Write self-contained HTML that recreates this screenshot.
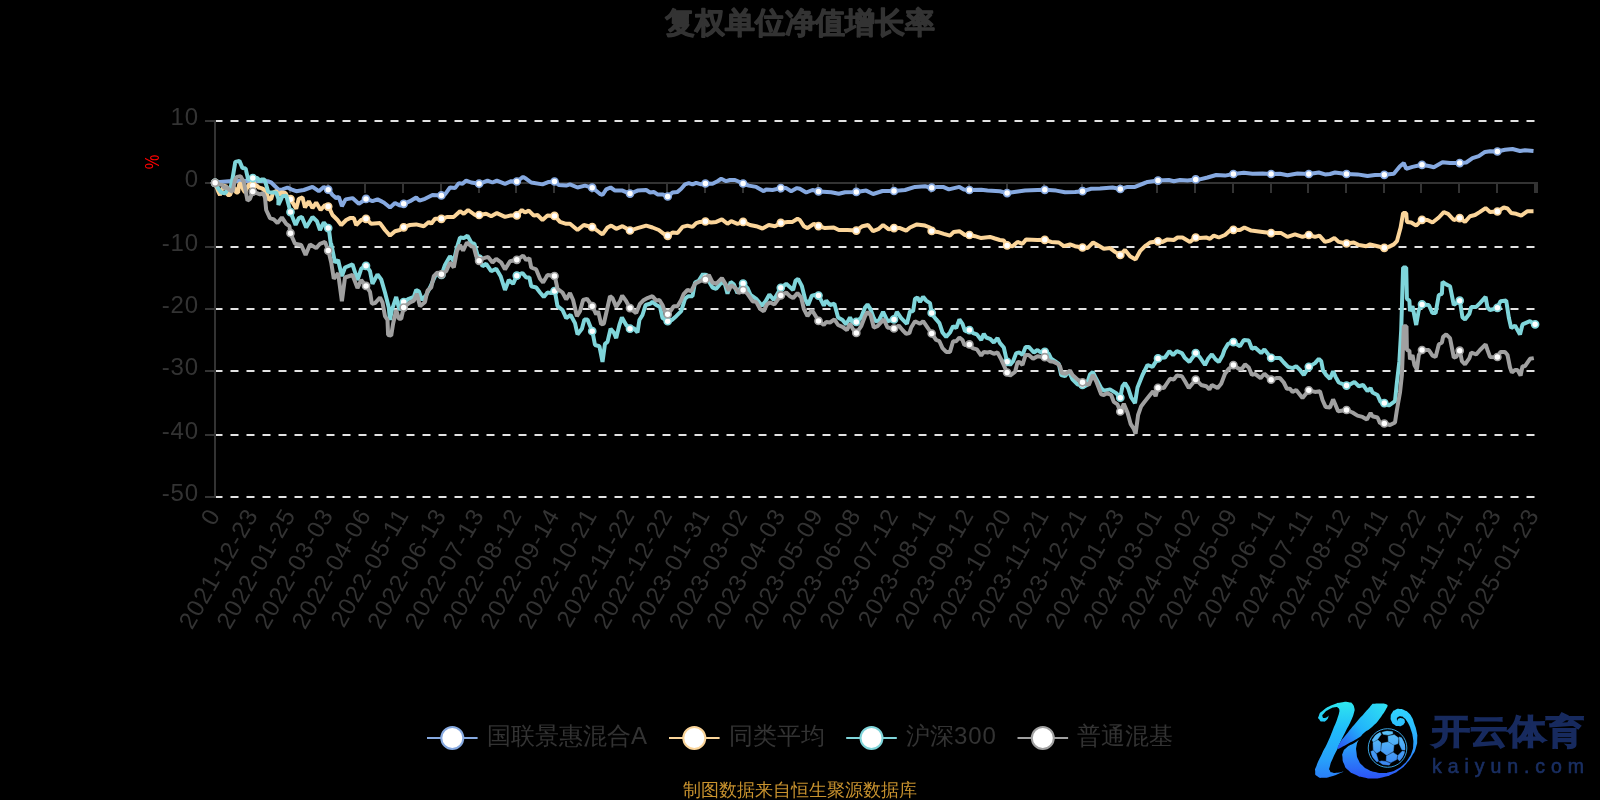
<!DOCTYPE html>
<html lang="zh"><head><meta charset="utf-8"><title>复权单位净值增长率</title>
<style>
html,body{margin:0;padding:0;background:#000;}
body{width:1600px;height:800px;overflow:hidden;position:relative;font-family:"Liberation Sans",sans-serif;}
</style></head><body>
<svg width="1600" height="800" viewBox="0 0 1600 800" style="position:absolute;left:0;top:0;will-change:transform">
<g stroke="#e2e2e2" stroke-width="2" stroke-dasharray="8 8" fill="none">
<line x1="214.5" y1="121" x2="1536" y2="121"/>
<line x1="214.5" y1="247" x2="1536" y2="247"/>
<line x1="214.5" y1="309" x2="1536" y2="309"/>
<line x1="214.5" y1="371" x2="1536" y2="371"/>
<line x1="214.5" y1="435" x2="1536" y2="435"/>
<line x1="214.5" y1="497" x2="1536" y2="497"/>
</g>
<g stroke="#333" stroke-width="2" fill="none">
<line x1="215" y1="120" x2="215" y2="498"/>
<line x1="205" y1="121" x2="215" y2="121"/>
<line x1="205" y1="183" x2="215" y2="183"/>
<line x1="205" y1="247" x2="215" y2="247"/>
<line x1="205" y1="309" x2="215" y2="309"/>
<line x1="205" y1="371" x2="215" y2="371"/>
<line x1="205" y1="435" x2="215" y2="435"/>
<line x1="205" y1="497" x2="215" y2="497"/>
<line x1="214" y1="183" x2="1538" y2="183"/>
<line x1="252" y1="183" x2="252" y2="193"/>
<line x1="290" y1="183" x2="290" y2="193"/>
<line x1="328" y1="183" x2="328" y2="193"/>
<line x1="365" y1="183" x2="365" y2="193"/>
<line x1="403" y1="183" x2="403" y2="193"/>
<line x1="441" y1="183" x2="441" y2="193"/>
<line x1="479" y1="183" x2="479" y2="193"/>
<line x1="516" y1="183" x2="516" y2="193"/>
<line x1="554" y1="183" x2="554" y2="193"/>
<line x1="592" y1="183" x2="592" y2="193"/>
<line x1="629" y1="183" x2="629" y2="193"/>
<line x1="667" y1="183" x2="667" y2="193"/>
<line x1="705" y1="183" x2="705" y2="193"/>
<line x1="743" y1="183" x2="743" y2="193"/>
<line x1="780" y1="183" x2="780" y2="193"/>
<line x1="818" y1="183" x2="818" y2="193"/>
<line x1="856" y1="183" x2="856" y2="193"/>
<line x1="893" y1="183" x2="893" y2="193"/>
<line x1="931" y1="183" x2="931" y2="193"/>
<line x1="969" y1="183" x2="969" y2="193"/>
<line x1="1007" y1="183" x2="1007" y2="193"/>
<line x1="1044" y1="183" x2="1044" y2="193"/>
<line x1="1082" y1="183" x2="1082" y2="193"/>
<line x1="1120" y1="183" x2="1120" y2="193"/>
<line x1="1157" y1="183" x2="1157" y2="193"/>
<line x1="1195" y1="183" x2="1195" y2="193"/>
<line x1="1233" y1="183" x2="1233" y2="193"/>
<line x1="1271" y1="183" x2="1271" y2="193"/>
<line x1="1308" y1="183" x2="1308" y2="193"/>
<line x1="1346" y1="183" x2="1346" y2="193"/>
<line x1="1384" y1="183" x2="1384" y2="193"/>
<line x1="1421" y1="183" x2="1421" y2="193"/>
<line x1="1459" y1="183" x2="1459" y2="193"/>
<line x1="1497" y1="183" x2="1497" y2="193"/>
<line x1="1535" y1="183" x2="1535" y2="193"/>
<line x1="1537" y1="183" x2="1537" y2="193"/>
</g>
<path d="M215.2 182.8 L220 181.9 L228.8 181.2 L237.5 181 L252.5 180.8 L267.5 181.2 L271.2 182.5 L275 186.2 L278.8 190 L282.5 189.4 L287.5 187.5 L291.2 189.4 L296.2 191.2 L303.8 190 L312.5 186.9 L318.8 191.2 L323.8 186.9 L328.8 190 L332.5 195 L336.2 198.1 L338.8 196.9 L341.9 206.2 L345.6 199.4 L352.5 198.1 L358.8 203.8 L366.2 198.8 L372.5 201.2 L377.5 199.4 L383.8 202.5 L390 207.5 L395 203.1 L399.8 205.6 L403.8 203.8 L410 201.2 L416.2 197.5 L419.4 200.6 L425 198.8 L432.5 195 L441.6 195.4 L445 194.4 L450 187.5 L455 188.1 L458.8 183.1 L462.5 183.8 L466.2 180.6 L471.2 182.5 L479.4 183.8 L487.5 180.6 L492.5 182.5 L496.9 180.6 L505 183.8 L511.2 181.2 L516.9 181.5 L523.1 176.9 L526.2 178.8 L531.2 182.5 L542.5 184.4 L548.8 181.9 L554.6 181.5 L558.8 185 L566.2 185.6 L570 184.4 L577.5 187.5 L585 185.6 L592.5 187.8 L599.8 193.8 L602.5 195 L606.2 189.4 L610.6 187.5 L615 190.6 L622.5 190.6 L630.2 193.8 L637.5 190.6 L646.2 190 L650 192.5 L653.8 191.9 L657.5 194.4 L662.5 194.4 L667.9 196.6 L672.5 192.5 L677.5 191.9 L681.2 188.8 L685 184.4 L688.8 183.1 L692.5 184.4 L696.2 182.8 L701.2 184.4 L705.6 183.5 L712.5 183.8 L717.5 181.2 L721.2 178.8 L726.2 181.2 L730 180 L735 180 L743.1 183.5 L748.8 185.6 L756.2 186.9 L763.8 191.2 L766.2 189.4 L772.5 190 L780.9 188.1 L786.2 188.1 L791.2 191.2 L796.9 188.1 L799.8 188.8 L806.2 192.5 L812.5 190 L818.8 191.5 L831.2 192.2 L838.8 193.8 L845 192.2 L856.2 191.9 L866.2 190.6 L873.1 194 L882.5 191 L894 191 L905 190 L915 186.9 L925 186.2 L931.9 187.8 L937.5 186.9 L943.1 186.9 L948.8 189.4 L959.4 186.9 L963.8 189.4 L969.4 190 L981.2 189.8 L987.5 190.6 L999.8 191.2 L1007.2 193.1 L1025 190.6 L1037.5 190 L1045 189.8 L1056.2 190.6 L1065 192.2 L1075 191.9 L1082.5 191.2 L1091.2 188.8 L1100 188.5 L1112.5 187.5 L1120.2 189 L1127.5 186.9 L1135 186.9 L1147.5 181.9 L1157.9 180.6 L1168.8 180 L1173.8 181.2 L1180 180 L1187.5 180.6 L1195.6 179.4 L1199.8 179.4 L1207.5 177.5 L1216.2 175 L1225 175.6 L1233.4 174 L1243.8 172.8 L1252.5 173.8 L1262.5 173.5 L1271 174 L1280 173.8 L1287.5 175.2 L1297.5 173.5 L1308.8 174 L1318.8 172.5 L1325 174.4 L1330 174 L1335 172.5 L1346.5 174 L1357.5 174.4 L1367.5 176 L1375 175 L1384.4 174.8 L1393.8 173.8 L1400 166.2 L1403.8 163.1 L1406.2 168.8 L1412.5 166.9 L1421.9 164.8 L1430 166.2 L1433.8 167.2 L1442.5 162.2 L1450 163.1 L1459.8 163.1 L1466.2 162.5 L1472.5 158.1 L1478.8 156.2 L1485 151.9 L1490 151.2 L1497.2 151.5 L1505 149.8 L1512.5 149 L1520 151 L1525 150.2 L1533.5 151" fill="none" stroke="#86A9E0" stroke-width="4" stroke-linejoin="bevel" stroke-linecap="butt"/>
<g fill="#fff" stroke="#86A9E0" stroke-width="1.6">
<circle cx="215.1" cy="182.8" r="3.55"/>
<circle cx="252.8" cy="180.8" r="3.55"/>
<circle cx="328.2" cy="189.7" r="3.55"/>
<circle cx="366" cy="198.9" r="3.55"/>
<circle cx="403.7" cy="203.8" r="3.55"/>
<circle cx="441.4" cy="195.4" r="3.55"/>
<circle cx="479.1" cy="183.7" r="3.55"/>
<circle cx="516.8" cy="181.5" r="3.55"/>
<circle cx="554.5" cy="181.5" r="3.55"/>
<circle cx="592.2" cy="187.7" r="3.55"/>
<circle cx="630" cy="193.6" r="3.55"/>
<circle cx="667.7" cy="196.5" r="3.55"/>
<circle cx="705.4" cy="183.5" r="3.55"/>
<circle cx="743.1" cy="183.5" r="3.55"/>
<circle cx="780.8" cy="188.1" r="3.55"/>
<circle cx="818.5" cy="191.4" r="3.55"/>
<circle cx="856.3" cy="191.9" r="3.55"/>
<circle cx="894" cy="191" r="3.55"/>
<circle cx="931.7" cy="187.7" r="3.55"/>
<circle cx="969.4" cy="190" r="3.55"/>
<circle cx="1007.1" cy="193.1" r="3.55"/>
<circle cx="1044.8" cy="189.8" r="3.55"/>
<circle cx="1082.5" cy="191.2" r="3.55"/>
<circle cx="1120.3" cy="189" r="3.55"/>
<circle cx="1158" cy="180.6" r="3.55"/>
<circle cx="1195.7" cy="179.4" r="3.55"/>
<circle cx="1233.4" cy="174" r="3.55"/>
<circle cx="1271.1" cy="174" r="3.55"/>
<circle cx="1308.8" cy="174" r="3.55"/>
<circle cx="1346.5" cy="174" r="3.55"/>
<circle cx="1384.3" cy="174.8" r="3.55"/>
<circle cx="1422" cy="164.8" r="3.55"/>
<circle cx="1459.7" cy="163.1" r="3.55"/>
<circle cx="1497.4" cy="151.5" r="3.55"/>
</g>
<path d="M215.1 182.8 L218.4 191.9 L220 195 L222.2 188.8 L223.8 187.5 L225.6 185 L227.5 195 L230 195 L231.9 190 L234.4 187.5 L236.2 192.5 L238.1 192.5 L239.1 184.4 L240.9 183.1 L243.1 189.4 L245 192.5 L248.8 184.4 L252.8 185.6 L256.9 185.6 L258.8 187.5 L261.2 188.1 L263.8 189.4 L266.9 193.8 L268.8 200 L271.2 198.8 L273.1 192.5 L276.2 191.2 L278.8 195 L281.2 192.5 L285.6 193.1 L288.1 198.1 L290.9 199.4 L296.2 208.8 L298.8 198.8 L302.5 197.5 L305 207.5 L308.8 201.2 L312.5 208.1 L316.2 202.5 L320.6 210 L325 205 L328.8 206.9 L332.5 215 L337.5 220 L341.2 225 L346.2 220 L350 218.1 L353.8 218.1 L356.2 225 L361.2 220 L366.2 218.8 L371.2 223.8 L380 223.1 L385 230 L390 235.6 L395 231.2 L399.8 230 L403.8 227.2 L410 225 L416.2 224.4 L423.8 226.2 L428.8 221.9 L431.2 223.8 L435 218.8 L441.6 218.8 L447.5 216.9 L453.8 216.9 L460 211.2 L463.8 213.8 L468.1 210 L475 215 L479.4 215 L486.2 213.8 L491.2 216.2 L496.9 213.1 L505 216.9 L510 215.6 L516.9 215.2 L521.9 210 L525 212.5 L528.8 210.6 L533.8 215.6 L537.5 215 L542.5 220 L547.5 215.6 L554.6 215.9 L560 221.9 L566.2 223.8 L570 223.8 L577.5 230 L583.8 225 L592.5 227.2 L599.8 232.5 L602.5 234.4 L607.5 227.5 L611.2 225.6 L616.2 228.8 L622.5 226.2 L630.2 230.6 L637.5 228.1 L646.2 225.6 L652.5 227.5 L658.8 230 L663.8 233.8 L667.9 235.9 L672.5 232.5 L677.5 233.1 L682.5 226.9 L687.5 225.6 L692.5 226.9 L696.2 223.1 L700 221.9 L705.6 221.5 L711.2 222.5 L716.2 221.9 L721.9 219.4 L727.5 223.8 L731.2 221.2 L737.5 223.8 L743.1 221.9 L750 225 L756.2 226.2 L762.5 228.5 L768.8 225 L775 226.2 L780.9 222.9 L787.5 221.9 L792.5 221.9 L797.5 218.8 L799.8 220 L803.8 226.2 L807.5 228.1 L813.8 223.8 L818.8 226.2 L825 228.1 L833.8 227.5 L838.8 230 L847.5 230 L856.2 230.6 L862.5 226.2 L868.1 225 L873.1 231.2 L878.8 228.8 L883.1 225 L888.8 229.4 L894 228.1 L900 228.1 L906.2 230.6 L910 227.5 L916.9 224.4 L925 225.6 L930 227.5 L931.9 231.2 L937.5 231.9 L943.8 233.8 L950 235.6 L953.8 231.9 L959.4 231.2 L965 235 L969.4 235 L975 236.2 L981.2 238.1 L990 236.9 L995 238.5 L999.8 240 L1003.8 240.6 L1007.2 245.6 L1012.5 246.2 L1017.5 241.9 L1022.5 243.8 L1026.2 239.4 L1037.5 240 L1045 239.8 L1051.2 241.9 L1058.8 242.5 L1063.8 246.2 L1070 244.4 L1075 246.2 L1082.5 247.5 L1087.5 248.1 L1093.1 242.5 L1097.5 245 L1103.8 248.8 L1110 248.1 L1115 251.9 L1120.2 255 L1125 250 L1130 256.2 L1135.6 259.4 L1140 251.2 L1145 246.2 L1150 242.5 L1157.9 241.2 L1162.5 241.9 L1167.5 239.4 L1173.8 240 L1177.5 237.5 L1182.5 237.5 L1190 241.9 L1195.6 237.5 L1199.8 238.1 L1206.2 237.5 L1210 238.8 L1213.8 235.6 L1218.8 237.5 L1225 235 L1230 230.6 L1233.4 229.8 L1240 230 L1244.4 227.5 L1251.2 230.6 L1262.5 231.9 L1271 233.1 L1281.2 233.1 L1287.5 236.9 L1295 234.4 L1302.5 236.9 L1308.8 235 L1315 236.9 L1319.4 235.6 L1325 241.9 L1330 240.6 L1334.4 238.1 L1338.8 241.9 L1346.5 243.5 L1353.8 242.5 L1358.8 245 L1366.2 246.2 L1370 244.4 L1377.5 246.2 L1384.1 247.9 L1388.8 246.9 L1393.8 244.4 L1396.9 241.2 L1400.6 227.5 L1403.1 213.1 L1406.2 213.1 L1406.9 221.9 L1411.2 222.5 L1416.2 225.6 L1421.9 219.8 L1427.5 220 L1432.5 222.5 L1438.8 217.5 L1443.8 212.2 L1448.1 213.8 L1453.8 220 L1459.8 218.1 L1465 221.9 L1470 216.2 L1475 215 L1480 211.9 L1485.6 208.1 L1490 211.9 L1497.2 211.6 L1503.8 207.5 L1507.5 208.5 L1511.2 213.1 L1516.2 213.8 L1521.2 215.6 L1527.5 211.2 L1533.5 211.2" fill="none" stroke="#FBD59A" stroke-width="4" stroke-linejoin="bevel" stroke-linecap="butt"/>
<g fill="#fff" stroke="#FBD59A" stroke-width="1.6">
<circle cx="215.1" cy="182.8" r="3.55"/>
<circle cx="252.8" cy="185.6" r="3.55"/>
<circle cx="290.5" cy="199.2" r="3.55"/>
<circle cx="328.2" cy="206.6" r="3.55"/>
<circle cx="366" cy="218.8" r="3.55"/>
<circle cx="403.7" cy="227.3" r="3.55"/>
<circle cx="441.4" cy="218.8" r="3.55"/>
<circle cx="479.1" cy="215" r="3.55"/>
<circle cx="516.8" cy="215.3" r="3.55"/>
<circle cx="554.5" cy="215.9" r="3.55"/>
<circle cx="592.2" cy="227.2" r="3.55"/>
<circle cx="630" cy="230.5" r="3.55"/>
<circle cx="667.7" cy="235.8" r="3.55"/>
<circle cx="705.4" cy="221.5" r="3.55"/>
<circle cx="743.1" cy="221.9" r="3.55"/>
<circle cx="780.8" cy="222.9" r="3.55"/>
<circle cx="818.5" cy="226.1" r="3.55"/>
<circle cx="856.3" cy="230.6" r="3.55"/>
<circle cx="894" cy="228.1" r="3.55"/>
<circle cx="931.7" cy="230.9" r="3.55"/>
<circle cx="969.4" cy="235" r="3.55"/>
<circle cx="1007.1" cy="245.4" r="3.55"/>
<circle cx="1044.8" cy="239.8" r="3.55"/>
<circle cx="1082.5" cy="247.5" r="3.55"/>
<circle cx="1120.3" cy="255" r="3.55"/>
<circle cx="1158" cy="241.3" r="3.55"/>
<circle cx="1195.7" cy="237.5" r="3.55"/>
<circle cx="1233.4" cy="229.8" r="3.55"/>
<circle cx="1271.1" cy="233.1" r="3.55"/>
<circle cx="1308.8" cy="235" r="3.55"/>
<circle cx="1346.5" cy="243.5" r="3.55"/>
<circle cx="1384.3" cy="247.8" r="3.55"/>
<circle cx="1422" cy="219.8" r="3.55"/>
<circle cx="1459.7" cy="218.1" r="3.55"/>
<circle cx="1497.4" cy="211.5" r="3.55"/>
</g>
<path d="M215.1 182.8 L218.4 188.8 L221.2 192.5 L225 193.4 L227.5 190 L230.6 187.5 L232.5 178.8 L235.3 161.9 L239.4 160.9 L242.5 168.1 L245.6 168.4 L248.1 179.4 L252.8 178.1 L257.5 178.1 L260 181.9 L261.2 179.4 L264.4 179.4 L266.6 186.2 L268.1 191.6 L271.2 192.5 L276.2 192.5 L278.4 198.8 L278.4 205 L282.5 196.2 L286.2 195.6 L290.6 212.5 L295.6 225 L298.8 218.1 L301.9 216.9 L306.2 227.5 L312.5 216.9 L316.9 221.2 L320 230 L323.8 222.5 L328.8 228.8 L331.2 246.9 L331.2 243.8 L335 262.5 L338.1 260 L341.9 276.2 L345 267.5 L352.5 264.4 L357.5 280 L361.2 268.8 L366.2 265.6 L370 271.2 L372.5 283.8 L377.5 274.4 L381.2 279.4 L385 292.5 L388.8 307.5 L390 320 L391.9 310 L396.2 296.9 L399.4 310 L403.8 301.9 L408.8 298.8 L413.8 296.9 L416.2 290 L418.8 291.2 L421.9 300 L426.2 295 L430 287.5 L436.2 273.8 L441.5 275 L445 265 L450 256.2 L453.8 261.2 L456.9 247.5 L460 237.5 L463.8 238.1 L467.5 235.6 L471.2 242.5 L474.4 243.8 L477.5 255 L482.5 266.2 L486.2 263.8 L491.2 271.2 L496.2 268.8 L500.6 276.2 L505 290 L508.8 280 L513.1 283.8 L517.1 275 L522.5 273.1 L526.2 277.5 L529.4 277.5 L531.2 286.2 L536.2 287.5 L540 292.5 L543.8 296.9 L547.5 292.5 L551.2 293.1 L554.8 290.9 L557.5 306.2 L562.5 310 L566.2 318.1 L570.6 315 L575 323.1 L577.5 334.4 L581.9 328.8 L584.4 319.4 L587.5 319.4 L592.5 331.9 L595 345 L599.4 346.2 L602.5 361.9 L605 343.8 L607.5 341.9 L610.6 328.8 L613.8 332.5 L616.2 338.1 L619.4 325 L621.9 317.5 L626.2 325 L630 328.8 L633.8 328.1 L637.5 332.5 L639.4 320 L642.5 315 L645.6 305 L650 303.8 L652.5 301.9 L656.2 305 L660 306.9 L662.5 318.1 L667.8 321.2 L671.9 320 L676.2 316.2 L681.2 311.2 L685 298.8 L688.1 296.2 L692.5 296.2 L695 282.5 L698.8 280.6 L703.1 273.8 L705.6 277.5 L708.8 281.2 L712.5 287.5 L716.2 288.8 L721.9 281.9 L725 284.4 L727.5 293.8 L730.6 281.9 L733.8 284.4 L737.5 293.1 L743.1 283.5 L747.5 288.1 L750.6 295 L756.2 298.8 L761.9 305.6 L765.6 301.2 L769.4 294.4 L773.8 300 L780.9 287.8 L786.2 283.8 L793.1 290 L795.6 280.6 L798.1 278.8 L801.9 286.2 L805 298.8 L808.1 305 L811.9 295.6 L815 295 L818.8 295.6 L823.8 305.6 L826.2 300.6 L830 305 L834.4 303.8 L838.1 317.5 L842.5 320 L846.2 324.4 L850 317.5 L852.5 322.5 L856.5 321.9 L861.2 317.5 L865 307.5 L867.5 304.4 L870.6 309.4 L873.8 318.1 L875.6 321.2 L878.8 320.6 L883.1 311.9 L887.5 321.2 L894 319.4 L896.9 311.9 L901.2 318.1 L906.9 323.8 L910 311.2 L913.1 311.2 L915 298.8 L917.5 297.5 L920 301.9 L923.1 296.9 L926.2 300.6 L930 303.1 L931.9 314 L936.2 319.4 L939.4 323.1 L942.5 332.5 L946.2 336.9 L950 332.5 L953.1 326.2 L956.2 328.1 L959.4 319.4 L962.5 323.8 L965 331.2 L969.6 330 L973.1 333.1 L976.9 334.4 L981.2 340 L983.8 333.8 L986.2 337.5 L990 338.8 L993.8 342.5 L997.5 338.1 L1000 343.1 L1003.8 347.5 L1007.1 361.9 L1010 365 L1013.1 361.2 L1016.2 353.1 L1019.4 352.5 L1022.5 355 L1025.6 346.9 L1028.8 346.9 L1033.8 352.5 L1037.5 350 L1040 351.9 L1045 351.9 L1048.8 353.8 L1051.2 358.8 L1055 361.2 L1058.8 363.8 L1061.2 375 L1065 376.2 L1068.8 371.2 L1072.5 379.4 L1077.5 384.4 L1082.5 384.8 L1086.2 386.2 L1090 374.4 L1092.8 371.9 L1096.2 378.8 L1101.2 388.1 L1103.8 390.6 L1110 389.4 L1116.2 393.1 L1120.2 397.8 L1122.5 386.2 L1125 383.1 L1128.1 388.1 L1131.2 397.5 L1135 403.1 L1137.5 387.5 L1142.5 375 L1147.5 365 L1152.5 366.9 L1158.1 358.1 L1165 357.5 L1169.4 351.2 L1173.1 355 L1176.9 351.2 L1181.9 353.1 L1185 358.1 L1189.4 361.9 L1195.9 352.8 L1200 357.5 L1205 365 L1208.1 358.8 L1211.9 354.4 L1215.6 359.4 L1218.8 361.9 L1222.5 355.6 L1224.4 350 L1228.1 343.8 L1233.4 342.1 L1240 346.2 L1243.8 340 L1248.8 340.6 L1251.9 348.8 L1255 347.5 L1261.2 353.1 L1264.4 349.4 L1270.9 357.8 L1276.2 358.1 L1280 358.1 L1283.8 362.5 L1288.1 366.9 L1292.5 368.1 L1296.2 366.2 L1300 370 L1303.8 375 L1308.8 366.9 L1315 363.1 L1318.8 358.8 L1321.2 361.2 L1323.1 370.6 L1326.2 375 L1330 378.8 L1333.1 371.2 L1335.6 376.9 L1338.8 382.5 L1346.5 385.6 L1351.2 383.8 L1354.4 381.9 L1358.8 386.2 L1363.1 385 L1367.5 391.2 L1370.6 388.1 L1372.5 392.5 L1377.5 395 L1380.6 401.9 L1384.4 403.1 L1388.8 405.6 L1395 401.2 L1396.9 382.5 L1399.4 361.2 L1401.2 330 L1403.1 267.5 L1406.2 267.5 L1406.9 298.8 L1409.4 300.6 L1410 311.2 L1412.5 306.2 L1416.2 325 L1418.8 310 L1421.9 304.4 L1428.8 305 L1432.5 313.1 L1435.6 313.1 L1438.8 295 L1441.9 293.8 L1442.5 281.9 L1446.2 284.4 L1450 286.2 L1453.8 305 L1459.8 300.6 L1462.5 317.5 L1465 319.4 L1469.4 313.8 L1471.2 306.9 L1476.2 306.9 L1480 303.1 L1485.6 296.9 L1487.5 307.5 L1490 310 L1497.2 308.1 L1500.6 301.2 L1506.2 300.6 L1508.8 317.5 L1511.2 328.1 L1515 325.6 L1520 334.4 L1522.5 324.4 L1530 321.2 L1535.2 324.4" fill="none" stroke="#7FD5DA" stroke-width="4" stroke-linejoin="bevel" stroke-linecap="butt"/>
<g fill="#fff" stroke="#7FD5DA" stroke-width="1.6">
<circle cx="215.1" cy="182.8" r="3.55"/>
<circle cx="252.8" cy="178.1" r="3.55"/>
<circle cx="290.5" cy="212.1" r="3.55"/>
<circle cx="328.2" cy="228.1" r="3.55"/>
<circle cx="366" cy="265.8" r="3.55"/>
<circle cx="403.7" cy="302" r="3.55"/>
<circle cx="441.4" cy="275" r="3.55"/>
<circle cx="479.1" cy="258.6" r="3.55"/>
<circle cx="516.8" cy="275.7" r="3.55"/>
<circle cx="554.5" cy="291" r="3.55"/>
<circle cx="592.2" cy="331.2" r="3.55"/>
<circle cx="630" cy="328.7" r="3.55"/>
<circle cx="667.7" cy="321.2" r="3.55"/>
<circle cx="705.4" cy="277.2" r="3.55"/>
<circle cx="743.1" cy="283.5" r="3.55"/>
<circle cx="780.8" cy="287.8" r="3.55"/>
<circle cx="818.5" cy="295.6" r="3.55"/>
<circle cx="856.3" cy="321.9" r="3.55"/>
<circle cx="894" cy="319.4" r="3.55"/>
<circle cx="931.7" cy="312.9" r="3.55"/>
<circle cx="969.4" cy="330.1" r="3.55"/>
<circle cx="1007.1" cy="361.8" r="3.55"/>
<circle cx="1044.8" cy="351.9" r="3.55"/>
<circle cx="1082.5" cy="384.8" r="3.55"/>
<circle cx="1120.3" cy="397.7" r="3.55"/>
<circle cx="1158" cy="358.4" r="3.55"/>
<circle cx="1195.7" cy="353" r="3.55"/>
<circle cx="1233.4" cy="342.1" r="3.55"/>
<circle cx="1271.1" cy="357.8" r="3.55"/>
<circle cx="1308.8" cy="366.8" r="3.55"/>
<circle cx="1346.5" cy="385.6" r="3.55"/>
<circle cx="1384.3" cy="403.1" r="3.55"/>
<circle cx="1422" cy="304.4" r="3.55"/>
<circle cx="1459.7" cy="300.7" r="3.55"/>
<circle cx="1497.4" cy="307.8" r="3.55"/>
<circle cx="1535.1" cy="324.3" r="3.55"/>
</g>
<path d="M215.1 182.8 L219.4 184.4 L222.5 185 L224.4 188.1 L226.9 186.9 L229.4 190 L232.5 191.6 L235 180 L236.9 176.9 L240.6 176.2 L243.8 181.9 L246.2 193.8 L247.5 200.6 L250 198.8 L252.8 191.6 L256.9 193.1 L260 194.4 L263.1 193.1 L265 197.5 L266.2 210 L270 218.1 L273.8 219.4 L277.5 223.1 L281.9 217.5 L286.2 223.8 L289.4 226.2 L290.6 233.8 L295 243.8 L301.2 245 L305.6 255 L310 244.4 L316.2 248.1 L320 243.8 L325 241.9 L328.5 251.2 L331.2 262.5 L333.8 278.8 L338.1 273.1 L341.9 301.2 L345 277.5 L352.5 275 L357.5 288.1 L361.2 280 L366.2 286.2 L370 291.9 L371.9 303.8 L375 303.1 L380 297.5 L382.5 302.5 L385 316.2 L387.5 320 L388.1 335 L391.2 335.6 L393.1 323.8 L396.2 310 L398.8 318.8 L401.2 318.8 L403.8 307.2 L410 302.5 L413.8 300.6 L416.9 293.8 L420 306.2 L425 301.9 L427.5 290.6 L431.2 287.5 L433.8 276.2 L437.5 272.5 L441.5 274.4 L446.2 271.2 L450 262.5 L453.8 267.5 L456.9 251.2 L460 245 L463.1 250.6 L466.9 242.5 L471.2 246.2 L473.8 246.9 L476.2 256.2 L479.1 260.9 L483.8 258.1 L488.1 256.9 L492.5 262.5 L496.2 258.8 L501.2 262.5 L505 269.4 L510 261.2 L517.1 259.8 L523.1 255.6 L526.2 260 L529.4 258.1 L531.2 267.5 L536.2 269.4 L540 278.8 L543.1 282.5 L547.5 275 L554.8 276 L557.5 288.8 L562.5 292.5 L566.2 299.4 L570 293.1 L573.1 300 L576.9 316.2 L580 311.2 L583.1 300 L586.9 298.8 L592.5 306.5 L596.2 314.4 L598.1 311.2 L601.2 324.4 L603.8 323.8 L607.5 307.5 L610 296.2 L612.5 298.1 L616.2 306.9 L620 301.2 L622.2 295.6 L626.2 301.2 L630 308.1 L636.2 313.1 L640 303.8 L643.1 300.6 L647.5 298.1 L652.5 296.2 L656.2 300.6 L659.4 300 L662.5 305 L665 311.9 L667.8 314.4 L671.2 310 L673.8 306.2 L677.5 306.2 L681.2 300 L683.8 293.8 L687.5 290 L691.2 291.2 L695 283.8 L700 281.2 L705.6 279.4 L708.8 275 L712.5 282.5 L716.2 283.8 L721.9 278.1 L726.2 285 L728.8 290.6 L731.2 285 L736.2 288.8 L738.8 293.1 L743.1 290 L747.5 293.8 L752.5 301.2 L756.2 301.9 L760 308.8 L763.8 311.2 L766.9 304.4 L770 302.5 L774.4 304.4 L780.9 295.4 L786.2 292.5 L790 296.2 L793.1 298.1 L797.5 293.1 L801.2 297.5 L803.8 308.8 L807.5 316.2 L811.9 310 L815 315 L818.8 321.2 L823.8 325 L826.2 321.9 L830 322.5 L834.4 319.4 L838.1 325 L842.5 326.9 L846.9 330 L850 323.8 L853.1 329.4 L856.5 333.1 L861.2 326.2 L865 316.2 L867.5 311.9 L870.6 315 L873.8 327.5 L877.5 326.2 L883.8 319.4 L887.5 327.5 L894 328.5 L898.8 325.6 L902.5 330 L906.2 333.8 L909.4 333.1 L911.2 327.5 L915 321.2 L920 323.8 L923.1 321.2 L931.9 333.8 L936.2 340 L939.4 341.2 L942.5 348.1 L946.2 351.9 L950 351.9 L953.1 341.2 L956.2 341.2 L959.4 337.5 L962.5 340 L964.4 345 L969.6 344.4 L972.5 348.1 L976.9 349.4 L981.2 355.6 L983.8 351.9 L987.5 352.5 L990 351.9 L993.8 353.8 L997.5 352.5 L1001.2 359.4 L1007.1 372.5 L1010 375.6 L1015 371.9 L1017.5 362.5 L1019.4 361.9 L1022.5 365 L1025.6 355 L1028.8 355 L1033.1 358.8 L1037.5 356.2 L1045 357.2 L1050 361.2 L1053.8 361.9 L1057.5 363.8 L1060 366.2 L1061.9 373.1 L1065.6 373.8 L1070 370.6 L1072.5 375 L1077.5 379.4 L1082.5 382.2 L1088.8 385 L1092.8 375 L1096.2 381.2 L1101.2 394.4 L1103.8 395 L1106.9 393.1 L1111.2 395 L1113.8 401.9 L1117.5 404.4 L1120.2 411.5 L1123.8 403.8 L1127.5 412.5 L1130.6 423.8 L1133.8 428.8 L1135.6 433.8 L1138.1 415 L1141.2 406.2 L1145 401.2 L1150 395 L1153.1 391.2 L1155.6 396.2 L1158.1 387.2 L1163.8 388.1 L1167.5 382.5 L1170 378.8 L1173.8 379.4 L1176.9 375.6 L1181.9 376.2 L1185 381.2 L1188.8 388.1 L1195.9 379.4 L1201.2 385 L1206.2 386.2 L1209.4 389.4 L1211.9 385 L1217.5 388.1 L1221.2 383.8 L1225 373.8 L1228.8 368.8 L1233.5 365 L1238.8 368.8 L1241.9 368.8 L1245 364.4 L1248.8 367.5 L1251.9 375 L1255 373.8 L1260.6 378.1 L1264.4 373.8 L1270.9 379.8 L1276.2 378.1 L1280 378.1 L1283.8 382.5 L1286.9 388.8 L1290 388.8 L1292.5 391.9 L1296.2 390 L1302.5 398.1 L1308.8 390.2 L1315 391.9 L1320 391.2 L1322.5 400 L1325.6 406.9 L1330 407.5 L1333.1 399.4 L1335 403.8 L1338.1 411.2 L1346.5 410 L1352.5 412.5 L1357.5 415.6 L1362.5 416.9 L1366.9 419.4 L1370.6 413.1 L1372.5 416.2 L1377.5 417.5 L1380 423.1 L1384.4 423.5 L1390 425 L1395 422.5 L1396.9 410 L1400 392.5 L1401.9 375 L1403.8 326.2 L1406.5 326.2 L1406.9 350 L1409.4 350.6 L1410 359.4 L1412.5 355 L1414.4 365 L1416.9 369.4 L1418.8 355 L1421.9 350 L1428.8 350 L1432.5 355.6 L1435.6 356.9 L1438.8 344.4 L1441.9 342.5 L1443.1 336.9 L1446.2 334.4 L1450 338.1 L1453.8 357.5 L1456.2 356.9 L1459.8 350.6 L1461.9 361.2 L1465 364.4 L1469.4 358.1 L1471.2 352.5 L1476.2 354.4 L1480 350 L1485.6 344.4 L1487.5 350 L1490 356.9 L1497.2 357.2 L1500.6 351.9 L1505 351.9 L1507.5 355 L1510 367.5 L1511.9 372.5 L1515 370 L1517.5 370 L1520.6 375.6 L1522.5 366.2 L1525 366.2 L1530 358.8 L1533.8 358.1" fill="none" stroke="#A0A0A0" stroke-width="4" stroke-linejoin="bevel" stroke-linecap="butt"/>
<g fill="#fff" stroke="#A0A0A0" stroke-width="1.6">
<circle cx="215.1" cy="182.8" r="3.55"/>
<circle cx="252.8" cy="191.6" r="3.55"/>
<circle cx="290.5" cy="233.2" r="3.55"/>
<circle cx="328.2" cy="250.6" r="3.55"/>
<circle cx="366" cy="285.9" r="3.55"/>
<circle cx="403.7" cy="307.6" r="3.55"/>
<circle cx="441.4" cy="274.3" r="3.55"/>
<circle cx="479.1" cy="260.8" r="3.55"/>
<circle cx="516.8" cy="259.8" r="3.55"/>
<circle cx="554.5" cy="276" r="3.55"/>
<circle cx="592.2" cy="306.2" r="3.55"/>
<circle cx="630" cy="308.1" r="3.55"/>
<circle cx="667.7" cy="314.3" r="3.55"/>
<circle cx="705.4" cy="279.5" r="3.55"/>
<circle cx="743.1" cy="290" r="3.55"/>
<circle cx="780.8" cy="295.4" r="3.55"/>
<circle cx="818.5" cy="320.9" r="3.55"/>
<circle cx="856.3" cy="332.9" r="3.55"/>
<circle cx="894" cy="328.5" r="3.55"/>
<circle cx="931.7" cy="333.5" r="3.55"/>
<circle cx="969.4" cy="344.4" r="3.55"/>
<circle cx="1007.1" cy="372.5" r="3.55"/>
<circle cx="1044.8" cy="357.2" r="3.55"/>
<circle cx="1082.5" cy="382.3" r="3.55"/>
<circle cx="1120.3" cy="411.5" r="3.55"/>
<circle cx="1158" cy="387.8" r="3.55"/>
<circle cx="1195.7" cy="379.6" r="3.55"/>
<circle cx="1233.4" cy="365.1" r="3.55"/>
<circle cx="1271.1" cy="379.7" r="3.55"/>
<circle cx="1308.8" cy="390.3" r="3.55"/>
<circle cx="1346.5" cy="410" r="3.55"/>
<circle cx="1384.3" cy="423.5" r="3.55"/>
<circle cx="1422" cy="350" r="3.55"/>
<circle cx="1459.7" cy="350.7" r="3.55"/>
<circle cx="1497.4" cy="357" r="3.55"/>
</g>
<g font-family="Liberation Sans, sans-serif" font-size="24" fill="#333">
<text x="198.8" y="125.3" text-anchor="end" letter-spacing="0.8">10</text>
<text x="198.8" y="187.3" text-anchor="end" letter-spacing="0.8">0</text>
<text x="198.8" y="251.3" text-anchor="end" letter-spacing="0.8">-10</text>
<text x="198.8" y="313.3" text-anchor="end" letter-spacing="0.8">-20</text>
<text x="198.8" y="375.3" text-anchor="end" letter-spacing="0.8">-30</text>
<text x="198.8" y="439.3" text-anchor="end" letter-spacing="0.8">-40</text>
<text x="198.8" y="501.3" text-anchor="end" letter-spacing="0.8">-50</text>
<text transform="translate(213.9 510.3) rotate(-60)" text-anchor="end" y="8.5" letter-spacing="1.1">0</text>
<text transform="translate(251.6 510.3) rotate(-60)" text-anchor="end" y="8.5" letter-spacing="1.1">2021-12-23</text>
<text transform="translate(289.2 510.3) rotate(-60)" text-anchor="end" y="8.5" letter-spacing="1.1">2022-01-25</text>
<text transform="translate(326.9 510.3) rotate(-60)" text-anchor="end" y="8.5" letter-spacing="1.1">2022-03-03</text>
<text transform="translate(364.6 510.3) rotate(-60)" text-anchor="end" y="8.5" letter-spacing="1.1">2022-04-06</text>
<text transform="translate(402.3 510.3) rotate(-60)" text-anchor="end" y="8.5" letter-spacing="1.1">2022-05-11</text>
<text transform="translate(439.9 510.3) rotate(-60)" text-anchor="end" y="8.5" letter-spacing="1.1">2022-06-13</text>
<text transform="translate(477.6 510.3) rotate(-60)" text-anchor="end" y="8.5" letter-spacing="1.1">2022-07-13</text>
<text transform="translate(515.3 510.3) rotate(-60)" text-anchor="end" y="8.5" letter-spacing="1.1">2022-08-12</text>
<text transform="translate(553 510.3) rotate(-60)" text-anchor="end" y="8.5" letter-spacing="1.1">2022-09-14</text>
<text transform="translate(590.6 510.3) rotate(-60)" text-anchor="end" y="8.5" letter-spacing="1.1">2022-10-21</text>
<text transform="translate(628.3 510.3) rotate(-60)" text-anchor="end" y="8.5" letter-spacing="1.1">2022-11-22</text>
<text transform="translate(666 510.3) rotate(-60)" text-anchor="end" y="8.5" letter-spacing="1.1">2022-12-22</text>
<text transform="translate(703.7 510.3) rotate(-60)" text-anchor="end" y="8.5" letter-spacing="1.1">2023-01-31</text>
<text transform="translate(741.4 510.3) rotate(-60)" text-anchor="end" y="8.5" letter-spacing="1.1">2023-03-02</text>
<text transform="translate(779 510.3) rotate(-60)" text-anchor="end" y="8.5" letter-spacing="1.1">2023-04-03</text>
<text transform="translate(816.7 510.3) rotate(-60)" text-anchor="end" y="8.5" letter-spacing="1.1">2023-05-09</text>
<text transform="translate(854.4 510.3) rotate(-60)" text-anchor="end" y="8.5" letter-spacing="1.1">2023-06-08</text>
<text transform="translate(892.1 510.3) rotate(-60)" text-anchor="end" y="8.5" letter-spacing="1.1">2023-07-12</text>
<text transform="translate(929.7 510.3) rotate(-60)" text-anchor="end" y="8.5" letter-spacing="1.1">2023-08-11</text>
<text transform="translate(967.4 510.3) rotate(-60)" text-anchor="end" y="8.5" letter-spacing="1.1">2023-09-12</text>
<text transform="translate(1005.1 510.3) rotate(-60)" text-anchor="end" y="8.5" letter-spacing="1.1">2023-10-20</text>
<text transform="translate(1042.7 510.3) rotate(-60)" text-anchor="end" y="8.5" letter-spacing="1.1">2023-11-21</text>
<text transform="translate(1080.4 510.3) rotate(-60)" text-anchor="end" y="8.5" letter-spacing="1.1">2023-12-21</text>
<text transform="translate(1118.1 510.3) rotate(-60)" text-anchor="end" y="8.5" letter-spacing="1.1">2024-01-23</text>
<text transform="translate(1155.8 510.3) rotate(-60)" text-anchor="end" y="8.5" letter-spacing="1.1">2024-03-01</text>
<text transform="translate(1193.5 510.3) rotate(-60)" text-anchor="end" y="8.5" letter-spacing="1.1">2024-04-02</text>
<text transform="translate(1231.1 510.3) rotate(-60)" text-anchor="end" y="8.5" letter-spacing="1.1">2024-05-09</text>
<text transform="translate(1268.8 510.3) rotate(-60)" text-anchor="end" y="8.5" letter-spacing="1.1">2024-06-11</text>
<text transform="translate(1306.5 510.3) rotate(-60)" text-anchor="end" y="8.5" letter-spacing="1.1">2024-07-11</text>
<text transform="translate(1344.1 510.3) rotate(-60)" text-anchor="end" y="8.5" letter-spacing="1.1">2024-08-12</text>
<text transform="translate(1381.8 510.3) rotate(-60)" text-anchor="end" y="8.5" letter-spacing="1.1">2024-09-11</text>
<text transform="translate(1419.5 510.3) rotate(-60)" text-anchor="end" y="8.5" letter-spacing="1.1">2024-10-22</text>
<text transform="translate(1457.2 510.3) rotate(-60)" text-anchor="end" y="8.5" letter-spacing="1.1">2024-11-21</text>
<text transform="translate(1494.9 510.3) rotate(-60)" text-anchor="end" y="8.5" letter-spacing="1.1">2024-12-23</text>
<text transform="translate(1532.5 510.3) rotate(-60)" text-anchor="end" y="8.5" letter-spacing="1.1">2025-01-23</text>
</g>
<text font-family="Liberation Sans, sans-serif" font-size="19.5" fill="#f00" text-anchor="middle" transform="translate(159 161.9) rotate(-90) scale(0.84 1)">%</text>
<text font-family="Liberation Sans, sans-serif" font-size="30" font-weight="bold" fill="#333" stroke="#333" stroke-width="1.1" stroke-linejoin="round" text-anchor="middle" x="800" y="33">复权单位净值增长率</text>
<line x1="427" y1="738" x2="477.6" y2="738" stroke="#86A9E0" stroke-width="2"/>
<circle cx="452.3" cy="738" r="11" fill="#fff" stroke="#86A9E0" stroke-width="2"/>
<text font-family="Liberation Sans, sans-serif" font-size="24" fill="#333" x="487.0" y="744.3">国联景惠混合A</text>
<line x1="669" y1="738" x2="719.6" y2="738" stroke="#FBD59A" stroke-width="2"/>
<circle cx="694.3" cy="738" r="11" fill="#fff" stroke="#FBD59A" stroke-width="2"/>
<text font-family="Liberation Sans, sans-serif" font-size="24" fill="#333" x="729.0" y="744.3">同类平均</text>
<line x1="846.2" y1="738" x2="896.8" y2="738" stroke="#7FD5DA" stroke-width="2"/>
<circle cx="871.5" cy="738" r="11" fill="#fff" stroke="#7FD5DA" stroke-width="2"/>
<text font-family="Liberation Sans, sans-serif" font-size="24" fill="#333" x="906.0" y="744.3">沪深<tspan letter-spacing="0.85">300</tspan></text>
<line x1="1017.5" y1="738" x2="1068.1" y2="738" stroke="#A0A0A0" stroke-width="2"/>
<circle cx="1042.8" cy="738" r="11" fill="#fff" stroke="#A0A0A0" stroke-width="2"/>
<text font-family="Liberation Sans, sans-serif" font-size="24" fill="#333" x="1077.0" y="744.3">普通混基</text>
<text font-family="Liberation Sans, sans-serif" font-size="18" fill="#c8922e" text-anchor="middle" x="800" y="796">制图数据来自恒生聚源数据库</text>
<defs>
<linearGradient id="lgK" gradientUnits="userSpaceOnUse" x1="0" y1="702" x2="0" y2="779">
<stop offset="0" stop-color="#33dcff"/><stop offset="0.3" stop-color="#2cc0fd"/><stop offset="0.62" stop-color="#2a96fa"/><stop offset="1" stop-color="#2c52f6"/>
</linearGradient>
<linearGradient id="lgS" gradientUnits="userSpaceOnUse" x1="0" y1="702" x2="0" y2="779">
<stop offset="0" stop-color="#2fe6ee"/><stop offset="0.35" stop-color="#20bdfb"/><stop offset="0.75" stop-color="#27a0fa"/><stop offset="1" stop-color="#2a7cf7"/>
</linearGradient>
<linearGradient id="lgArm" gradientUnits="userSpaceOnUse" x1="1385" y1="704" x2="1340" y2="748">
<stop offset="0" stop-color="#2fe0f2"/><stop offset="0.55" stop-color="#22b4fb"/><stop offset="1" stop-color="#2a58f4"/>
</linearGradient>
<linearGradient id="lgBall" gradientUnits="userSpaceOnUse" x1="0" y1="730" x2="0" y2="766">
<stop offset="0" stop-color="#5cc6f9"/><stop offset="1" stop-color="#3a84f3"/>
</linearGradient>
<clipPath id="ballClip"><circle cx="1387.55" cy="748.0" r="17.8"/></clipPath>
</defs>
<path d="M1358.7 740.0C1357.2 741.1 1358.0 740.7 1354.0 743.2C1350.0 745.6 1350.3 744.3 1346.7 747.4C1343.0 750.5 1344.4 749.1 1343.0 752.5C1341.6 755.9 1342.2 753.7 1342.5 757.5C1342.8 761.3 1342.2 759.8 1344.0 764.0C1345.8 768.2 1344.3 766.5 1348.0 770.0C1351.7 773.5 1349.7 772.0 1355.0 774.5C1360.3 777.0 1357.7 776.2 1364.0 777.5C1370.3 778.8 1367.3 778.7 1374.0 778.5C1380.7 778.3 1377.8 778.5 1384.0 777.0C1390.2 775.5 1387.2 776.5 1392.5 774.0C1397.8 771.5 1395.3 773.0 1400.0 769.5C1404.7 766.0 1402.5 768.0 1406.5 763.5C1410.5 759.0 1408.8 761.3 1412.0 756.0C1415.2 750.7 1414.3 753.2 1416.0 747.5C1417.7 741.8 1417.0 744.3 1417.2 739.0C1417.4 733.7 1417.6 736.7 1416.6 731.5C1415.6 726.3 1415.8 728.1 1414.2 723.5C1412.7 718.9 1413.8 721.1 1412.0 717.6C1410.1 714.2 1411.2 715.6 1408.7 713.1C1406.2 710.6 1407.5 711.6 1404.5 710.2C1401.5 708.8 1402.7 709.0 1399.6 708.9C1396.6 708.8 1397.9 708.5 1395.4 709.8C1392.9 711.1 1393.7 710.4 1392.1 712.8C1390.6 715.2 1390.9 714.2 1390.7 717.0C1390.5 719.8 1390.4 718.7 1391.5 721.2C1392.6 723.7 1391.9 722.8 1394.1 724.5C1396.3 726.1 1395.4 725.8 1398.0 726.1C1400.6 726.4 1399.8 726.3 1401.9 725.4C1404.0 724.6 1403.2 724.9 1404.2 723.5C1405.1 722.1 1405.0 722.7 1404.8 721.2C1404.7 719.8 1404.8 720.1 1403.7 719.1C1402.6 718.1 1402.9 718.6 1401.6 718.3C1400.2 718.0 1400.8 718.0 1399.6 718.3C1398.4 718.6 1398.7 718.4 1398.0 719.3C1397.3 720.1 1397.7 720.4 1397.5 720.9C1397.3 720.5 1397.0 720.6 1396.9 719.6C1396.8 718.6 1396.6 718.9 1397.2 718.0C1397.8 717.0 1397.3 717.2 1398.6 716.7C1400.0 716.2 1399.4 716.1 1401.2 716.5C1403.1 716.9 1402.3 716.5 1404.2 718.0C1406.0 719.4 1405.1 718.6 1406.8 720.9C1408.4 723.2 1407.6 721.8 1409.0 724.8C1410.4 727.8 1409.7 725.9 1411.0 730.0C1412.2 734.1 1412.1 732.0 1412.8 737.0C1413.5 742.0 1413.5 740.2 1413.2 745.0C1412.9 749.8 1413.6 747.0 1412.0 751.5C1410.4 756.0 1411.5 754.0 1408.5 758.5C1405.5 763.0 1407.0 761.3 1403.0 765.0C1399.0 768.7 1400.8 767.2 1396.5 769.5C1392.2 771.8 1394.5 770.8 1390.0 772.0C1385.5 773.2 1388.0 773.0 1383.0 773.0C1378.0 773.0 1380.0 773.2 1375.0 772.0C1370.0 770.8 1372.2 771.7 1368.0 769.5C1363.8 767.3 1365.7 768.7 1362.5 765.5C1359.3 762.3 1360.5 764.3 1358.5 760.0C1356.5 755.7 1357.1 757.3 1356.5 752.5C1355.9 747.7 1355.9 749.7 1356.6 745.5C1357.3 741.3 1358.0 741.8 1358.7 740.0Z" fill="url(#lgK)"/>
<path d="M1354.5 708.5C1353.8 706.9 1354.4 705.9 1352.4 703.8C1350.5 701.7 1352.1 702.7 1348.8 702.2C1345.4 701.7 1347.7 701.3 1342.5 702.2C1337.2 703.1 1339.3 702.2 1333.0 704.8C1326.7 707.5 1328.3 706.4 1323.6 710.1C1318.8 713.8 1320.2 712.7 1318.8 715.9C1317.4 719.0 1318.1 717.6 1319.4 719.5C1320.6 721.5 1320.1 721.5 1322.5 721.6C1325.0 721.8 1324.6 722.1 1326.7 720.1C1328.8 718.1 1328.1 717.1 1328.8 715.6C1327.6 716.4 1327.2 717.7 1325.1 718.0C1323.0 718.2 1322.9 718.0 1322.5 716.4C1322.2 714.8 1322.0 715.5 1324.1 713.2C1326.2 711.0 1325.3 711.6 1328.8 709.6C1332.3 707.6 1331.4 707.8 1334.6 707.2C1337.7 706.7 1336.6 706.7 1338.3 708.0C1339.9 709.3 1339.1 710.1 1339.5 711.1C1338.8 713.8 1339.4 712.9 1337.2 719.0C1335.0 725.1 1336.2 721.8 1333.0 729.5C1329.9 737.2 1331.6 733.7 1327.8 742.1C1323.9 750.5 1325.1 747.0 1321.5 754.7C1317.8 762.4 1318.8 759.6 1316.7 765.2C1314.6 770.8 1315.0 767.9 1315.2 771.5C1315.3 775.2 1314.5 774.2 1317.3 776.3C1320.1 778.4 1318.7 777.8 1323.6 777.8C1328.5 777.8 1326.4 777.8 1332.0 776.3C1337.6 774.7 1336.5 774.7 1340.4 773.1C1344.2 771.5 1342.5 772.1 1343.5 771.5C1341.4 771.9 1340.9 772.4 1337.2 772.8C1333.5 773.1 1334.9 773.4 1332.5 772.6C1330.0 771.8 1330.7 772.6 1329.9 770.5C1329.0 768.4 1328.8 770.5 1329.9 766.3C1330.9 762.1 1330.4 763.8 1333.0 757.9C1335.6 751.9 1336.2 751.6 1337.7 748.4C1338.6 746.3 1337.7 747.7 1340.4 742.1C1343.0 736.5 1342.1 738.6 1345.6 731.6C1349.1 724.6 1348.1 727.4 1350.9 721.1C1353.7 714.8 1352.8 716.9 1354.0 712.7C1355.2 708.5 1354.4 709.9 1354.5 708.5Z" fill="url(#lgS)"/>
<path d="M1337.7 749.2C1340.7 747.6 1339.8 748.1 1346.7 744.4C1353.5 740.8 1352.4 742.0 1358.2 738.1C1364.1 734.2 1359.4 736.6 1364.2 732.7C1369.0 728.7 1367.0 731.6 1372.6 726.4C1378.2 721.1 1376.0 723.5 1381.0 716.9C1386.0 710.3 1385.4 710.0 1387.5 706.6C1387.1 705.8 1388.8 705.4 1386.3 704.3C1383.7 703.3 1384.5 703.6 1380.0 703.5C1375.4 703.3 1375.1 703.7 1372.6 703.8C1371.6 705.0 1372.4 704.1 1369.5 707.5C1366.5 710.8 1368.0 709.1 1363.9 713.8C1359.8 718.4 1362.6 715.0 1357.2 721.3C1351.8 727.6 1353.6 725.3 1347.7 732.7C1341.8 740.0 1342.8 737.9 1339.5 743.4C1336.2 748.9 1338.3 747.2 1337.7 749.2Z" fill="url(#lgArm)"/>
<circle cx="1387.55" cy="748.0" r="19.3" fill="none" stroke="#3fb2f6" stroke-width="0.9"/>
<g fill="url(#lgBall)" stroke="url(#lgBall)" stroke-width="0.5" stroke-linejoin="round" clip-path="url(#ballClip)">
<polygon points="1382.1,743.3 1388.1,742.0 1393.9,745.5 1393.3,751.3 1386.7,755.2 1381.0,751.0"/>
<polygon points="1388.1,736.2 1394.2,734.8 1398.3,737.8 1398.0,743.6 1393.9,745.0 1388.4,741.4"/>
<polygon points="1373.0,742.5 1377.9,740.0 1381.0,742.8 1380.4,750.8 1376.6,753.2 1373.3,749.7"/>
<polygon points="1386.5,756.0 1393.1,752.4 1397.2,755.2 1396.6,759.6 1390.9,762.6 1386.2,760.7"/>
<polygon points="1382.1,732.3 1387.0,731.1 1392.5,731.7 1392.8,733.7 1388.1,735.1 1383.2,734.3"/>
<polygon points="1372.0,740.0 1375.7,734.8 1380.1,732.3 1381.2,734.3 1377.7,739.2 1373.3,742.0"/>
<polygon points="1399.1,737.0 1401.7,737.8 1404.9,744.2 1405.6,750.2 1401.9,749.7 1399.4,744.2"/>
<polygon points="1398.0,755.4 1402.4,751.0 1405.7,751.9 1403.8,757.1 1399.8,761.2 1397.7,759.0"/>
<polygon points="1370.8,751.6 1373.3,750.5 1376.3,754.1 1378.5,761.2 1376.7,762.0 1372.4,757.1"/>
<polygon points="1379.0,761.8 1381.5,760.9 1385.9,761.5 1390.3,763.4 1389.2,765.2 1382.9,764.5"/>
</g>
<text font-family="Liberation Sans, sans-serif" font-size="34" font-weight="bold" fill="#172a5e" stroke="#172a5e" stroke-width="1.3" x="1431.8" y="742.6" textLength="152.5" lengthAdjust="spacingAndGlyphs">开云体育</text>
<text font-family="Liberation Sans, sans-serif" font-size="19.5" fill="#1a2f63" stroke="#1a2f63" stroke-width="0.6" x="1432" y="773.3" textLength="152" lengthAdjust="spacing">kaiyun.com</text>
</svg>
<!--LOGO-->
</body></html>
